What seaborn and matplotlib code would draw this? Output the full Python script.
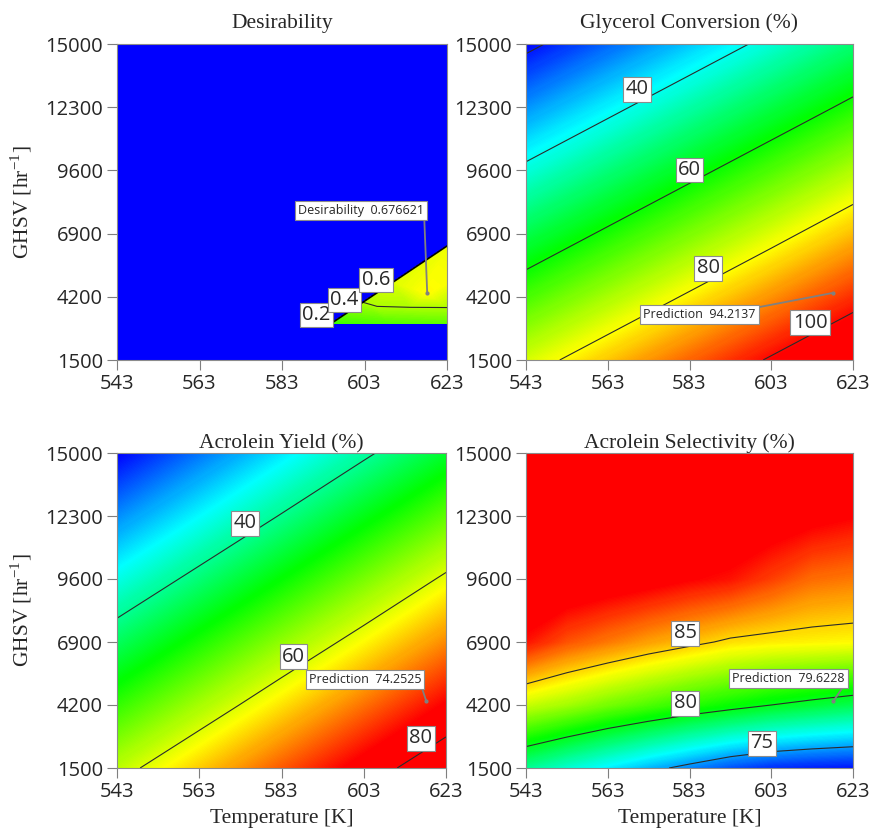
import numpy as np
import matplotlib
matplotlib.use("Agg")
import matplotlib.pyplot as plt
import matplotlib.tri as mtri
import seaborn as sns

# grids: columns = temperature, rows = GHSV (bottom to top)
temps = [543, 563, 583, 603, 623]
ghsv = [1500, 4200, 6900, 9600, 12300, 15000]

conversion = [
    [76.7, 84.7, 92.7, 100.8, 108.8],
    [65.0, 73.0, 81.0, 89.0, 97.1],
    [53.3, 61.3, 69.3, 77.3, 85.4],
    [41.6, 49.6, 57.6, 65.6, 73.7],
    [29.9, 37.9, 45.9, 53.9, 61.9],
    [18.2, 26.2, 34.2, 42.2, 50.3],
]
acrolein_yield = [
    [58.2, 64.6, 71.0, 77.4, 83.8],
    [50.6, 56.9, 63.3, 69.7, 76.1],
    [42.9, 49.3, 55.7, 62.0, 68.4],
    [35.2, 41.6, 48.0, 54.4, 60.8],
    [27.6, 33.9, 40.3, 46.7, 53.1],
    [19.9, 26.3, 32.7, 39.1, 45.4],
]
# selectivity is curved, so it is read on a finer temperature step
temps_fine = [543, 553, 563, 573, 583, 593, 603, 613, 623]
selectivity = [
    [78.2, 77.2, 76.3, 75.4, 74.6, 73.8, 73.25, 73.0, 72.86],
    [83.5, 82.9, 82.2, 81.6, 81.0, 80.5, 80.0, 79.6, 79.2],
    [88.0, 87.0, 86.4, 85.8, 85.3, 84.8, 84.6, 84.5, 84.4],
    [89.6, 89.3, 89.0, 88.7, 88.3, 88.0, 87.3, 86.6, 86.4],
    [90.0, 89.9, 89.8, 89.7, 89.6, 89.4, 89.0, 88.6, 88.3],
    [89.8, 89.8, 89.8, 89.8, 89.8, 89.7, 89.5, 89.2, 89.0],
]

# desirability is zero (blue) outside a small region at low GHSV / high T
edge_T = [595, 602.6, 610, 623]
edge_G = [3070, 3966, 4838, 6370]
edge_D = [0.50, 0.60, 0.645, 0.66]
inner_T = [609, 623, 606, 614, 623, 618.2, 623]
inner_G = [3070, 3070, 3800, 3760, 3750, 4370, 4800]
inner_D = [0.52, 0.53, 0.601, 0.601, 0.601, 0.677, 0.67]
desir_labels = ["0.2", "0.4", "0.6"]

# optimum shown on every map
opt_T, opt_G = 618.2, 4370
titles = ["Desirability", "Glycerol Conversion (%)", "Acrolein Yield (%)", "Acrolein Selectivity (%)"]
flag_text = ["Desirability  0.676621", "Prediction  94.2137", "Prediction  74.2525", "Prediction  79.6228"]

sns.set_style("white")
plt.rcParams["font.family"] = ["Open Sans", "DejaVu Sans"]
plt.rcParams["mathtext.fontset"] = "stix"

cmap = sns.blend_palette(["#0000ff", "#00ffff", "#00ff00", "#ffff00", "#ff0000"], as_cmap=True)
serif = dict(family="Liberation Serif", fontsize=15.5)
box = dict(boxstyle="square,pad=0.12", facecolor="white", edgecolor="#8c8c8c", linewidth=0.8)
pbox = dict(boxstyle="square,pad=0.25", facecolor="white", edgecolor="#8c8c8c", linewidth=0.8)

fig = plt.figure(figsize=(8.7, 8.32), dpi=100)
W, H = 870, 832
def add_ax(x0, y0, x1, y1):
    return fig.add_axes([x0 / W, 1 - y1 / H, (x1 - x0) / W, (y1 - y0) / H])

ax1 = add_ax(117, 44, 447, 360)
ax2 = add_ax(526, 44, 853, 360)
ax3 = add_ax(117, 453, 446, 768)
ax4 = add_ax(526, 453, 853, 768)


def surface(ax, tvals, Z, vrange, levels, label_pos):
    TT, GG = np.meshgrid(tvals, ghsv)
    Z = np.array(Z)
    ax.contourf(TT, GG, Z, levels=np.linspace(Z.min(), Z.max(), 300), cmap=cmap,
                norm=plt.Normalize(*vrange), antialiased=False)
    cs = ax.contour(TT, GG, Z, levels=levels, colors="#2b2b2b", linewidths=0.8)
    texts = ax.clabel(cs, manual=label_pos, inline=False, fmt="%d", fontsize=14.5)
    # boxes sit where the reference puts them, just off the line
    for t in texts:
        x, y = t.get_position()
        near = min(label_pos, key=lambda p: abs(p[0] - x) / 80 + abs(p[1] - y) / 13500)
        t.set_position(near)
        t.set_bbox(box)
        t.set_rotation(0)


# Desirability
allT = edge_T + inner_T
allG = edge_G + inner_G
allD = edge_D + inner_D
norm = mtri.Triangulation((np.array(allT) - 543) / 80, (np.array(allG) - 1500) / 13500)
tri = mtri.Triangulation(allT, allG, triangles=norm.triangles)
ax1.set_facecolor(cmap(0.0))
ax1.tricontourf(tri, allD, levels=np.linspace(0.45, 0.7, 100), cmap=cmap, norm=plt.Normalize(0, 0.9))
ax1.tricontour(tri, allD, levels=[0.6], colors="#2b2b2b", linewidths=0.8)
ax1.plot(edge_T, edge_G, color="black", lw=1.2)
for lab, (tx, gy) in zip(desir_labels, [(591.4, 3420), (598.1, 4060), (605.8, 4920)]):
    ax1.text(tx, gy, lab, ha="center", va="center", fontsize=14.5, bbox=box)

surface(ax2, temps, conversion, (18, 101), [20, 40, 60, 80, 100],
        [(570.1, 13065), (583.0, 9617), (587.6, 5417), (612.5, 3093)])
surface(ax3, temps, acrolein_yield, (20, 76), [40, 60, 80],
        [(574.1, 11988), (585.9, 6272), (616.9, 2773)])
surface(ax4, temps_fine, selectivity, (72.6, 88.3), [75, 80, 85],
        [(600.7, 2559), (581.9, 4273), (581.9, 7273)])

# prediction flags: (text anchor, offset in pixels, corner the leader starts from)
flags = [
    (("right", "bottom"), (-3, 76), (1, 0)),
    (("right", "top"), (-78, -15), (1, 1)),
    (("right", "bottom"), (-5, 15), (1, 0)),
    (("right", "bottom"), (11, 16), (1, 0)),
]
for ax, txt, ((ha, va), off, rel) in zip([ax1, ax2, ax3, ax4], flag_text, flags):
    ax.annotate(txt, xy=(opt_T, opt_G), xytext=off, textcoords="offset pixels",
                ha=ha, va=va, fontsize=9, bbox=pbox,
                arrowprops=dict(arrowstyle="-", color="#808080", lw=1.3, relpos=rel,
                                shrinkA=0, shrinkB=0))
    ax.plot([opt_T], [opt_G], "o", ms=2, color="#808080")

for i, (ax, title) in enumerate(zip([ax1, ax2, ax3, ax4], titles)):
    ax.set_xlim(543, 623)
    ax.set_ylim(1500, 15000)
    ax.set_xticks(temps)
    ax.set_yticks(ghsv)
    ax.tick_params(direction="out", length=7, width=0.8, color="#7f7f7f",
                   labelsize=14.5, pad=3, bottom=True, left=True)
    for s in ax.spines.values():
        s.set_color("#8c8c8c")
        s.set_linewidth(0.8)
    ax.set_title(title, pad=11.5 if i < 2 else 3.5, **serif)

for ax in (ax1, ax3):
    ax.set_ylabel(r"GHSV [hr$^{\mathregular{-1}}$]", labelpad=8, **serif)
for ax in (ax3, ax4):
    ax.set_xlabel("Temperature [K]", labelpad=5, **serif)

fig.savefig("out.png", dpi=100)
